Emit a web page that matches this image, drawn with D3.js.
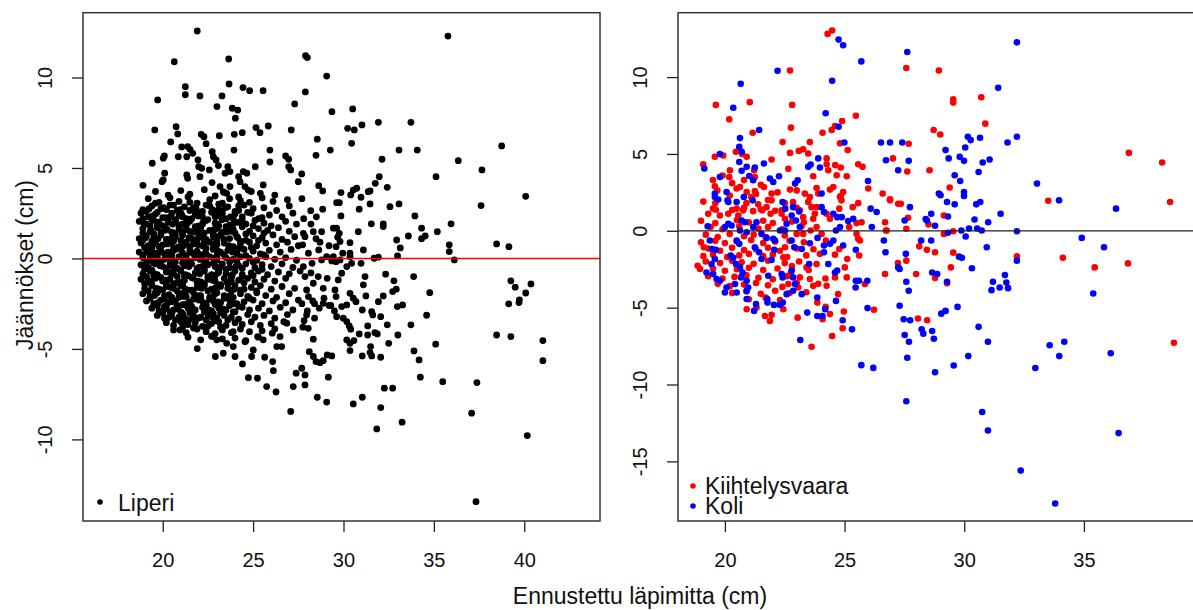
<!DOCTYPE html>
<html>
<head>
<meta charset="utf-8">
<script src="https://cdn.jsdelivr.net/npm/d3@7"></script>
<style>
  html, body { margin: 0; padding: 0; background: #fff; }
  svg { display: block; font-family: "Liberation Sans", Arial, sans-serif; }
</style>
</head>
<body>
<svg id="chart" width="1193" height="610"></svg>
<script>
// Residuals (cm) against predicted diameter (cm), three sites.

// Liperi: [predicted diameter, residual]
const liperi = [
  // upper spread
  [21.91,12.57],[20.64,10.87],[23.65,11.02],[23.67,9.64],[21.25,9.49],[21.25,9.05],[22.06,8.98],[23.28,8.98],
  [24.44,9.44],[24.81,9.27],[25.55,9.27],[19.72,8.76],[23.0,8.39],[23.85,8.30],[24.15,8.20],[24.02,7.75],
  [27.3,8.54],[19.56,7.10],[20.74,7.28],[20.83,6.88],[25.16,7.23],[25.38,6.95],[25.84,7.32],[27.11,7.10],
  [22.13,6.86],[22.28,6.73],[23.13,6.78],[23.96,6.86],[24.40,6.95],[20.44,6.44],[22.40,6.34],[21.05,6.16],
  [21.38,6.18],[21.51,6.03],[21.66,5.81],[21.33,5.62],[23.94,5.99],[25.93,5.99],[25.93,5.33],[20.09,5.66],
  [20.03,5.54],[22.74,5.90],[22.80,5.62],[22.95,5.44],[19.42,5.26],[20.86,5.62],[21.95,5.44],[21.99,5.07],
  [22.16,4.98],[23.08,5.13],[23.60,5.07],[23.72,4.80],[23.45,4.71],[25.12,5.07],[22.58,4.89],[26.80,5.66],
  [26.97,5.48],[26.97,5.07],[27.08,4.89],[24.20,4.52],[24.46,4.80],[24.65,4.71],[20.11,4.71],[20.03,4.34],
  [19.96,4.24],[18.91,4.04],[21.33,4.61],[21.38,4.43],[22.06,4.52],[22.73,4.19],[23.17,3.97],[23.35,3.69],
  [23.54,3.60],[23.72,3.97],[24.28,4.24],[24.55,3.97],[24.73,3.78],[25.56,4.06],[27.50,4.24],
  // lower spread
  [20.96,-3.95],[21.91,-4.98],[22.91,-5.42],[24.0,-5.42],[24.41,-5.83],[24.74,-6.59],[25.24,-6.62],[25.75,-7.08],
  [26.27,-7.38],[27.08,-8.46],[27.22,-7.08],[27.38,-6.34],[26.12,-6.2],[26.08,-5.70],[25.64,-5.46],[25.25,-4.32],
  [26.06,-4.13],[26.31,-4.87],[26.58,-4.87],[24.92,-5.42],[22.99,-4.50],[23.54,-4.69],[22.80,-4.32],
  [23.90,-4.04],[24.55,-4.60],[25.01,-5.06],[23.90,-4.87],[23.35,-5.24],[25.56,-4.50],[26.49,-4.32],[26.86,-3.58],[27.22,-3.95],
  // larger trees, below zero
  [27.96,-3.12],[27.82,-3.44],[28.05,-3.86],[28.33,-4.46],[28.11,-5.15],[28.33,-5.42],[28.48,-5.70],[28.70,-5.76],
  [28.88,-5.65],[29.10,-5.33],[29.35,-5.39],[27.69,-6.07],[27.87,-6.44],[27.87,-6.99],[28.55,-7.67],[29.07,-7.94],
  [29.16,-6.56],[28.66,-2.75],[28.88,-2.48],[29.62,-3.22],[29.99,-3.30],[30.18,-3.49],[30.32,-3.73],[30.40,-3.91],
  [29.90,-2.66],[30.18,-2.57],[30.18,-4.50],[30.36,-4.69],[30.58,-4.54],[30.36,-5.09],[30.87,-4.17],[31.04,-2.85],
  [30.69,-2.39],[31.04,-5.39],[31.34,-3.73],[31.34,-4.23],[31.50,-4.87],[31.47,-5.20],[31.56,-5.39],[31.56,-2.94],
  [31.62,-3.12],[31.74,-4.10],[31.87,-4.17],[32.06,-3.22],[31.93,-2.39],[32.42,-3.67],[32.50,-4.69],[32.06,-5.46],
  [31.04,-7.67],[30.54,-8.04],[32.06,-8.24],[31.84,-9.42],[32.26,-7.17],[32.72,-7.17],[33.24,-9.05],[33.01,-4.23],
  [32.98,-2.66],[33.27,-2.57],[33.73,-3.67],[33.90,-5.11],[34.18,-5.61],[34.25,-6.56],[34.60,-3.14],[35.10,-4.74],
  [35.49,-6.81],[37.09,-8.55],[37.38,-6.86],[37.33,-13.44],[38.47,-4.23],[39.26,-4.32],[39.14,-2.51],[39.71,-2.44],
  [41.03,-4.54],[41.03,-5.65],[40.17,-9.79],
  [27.7,-2.5],[28.0,-2.9],[28.3,-2.35],[27.75,-3.8],[28.4,-3.3],[29.3,-2.6],[29.5,-2.9],
  // larger trees, above zero
  [35.78,12.29],[27.9,11.2],[28.0,11.1],[29.07,10.08],[27.89,9.20],[29.36,8.11],[30.51,8.26],[30.23,7.19],
  [30.60,7.10],[31.02,7.38],[31.93,7.52],[33.73,7.52],[28.55,6.59],[28.48,5.70],[29.27,5.99],[30.45,6.36],
  [33.07,5.99],[34.08,5.99],[38.75,6.22],[36.35,5.40],[32.13,5.48],[37.66,4.89],[35.12,4.52],[27.69,4.67],
  [31.98,4.52],[31.76,4.15],[31.47,3.73],[31.37,3.69],[32.42,3.93],[28.63,4.02],[28.85,3.73],[29.86,3.64],
  [30.54,3.78],[30.73,3.88],[30.40,3.51],[30.97,3.38],[29.62,3.08],[29.77,3.08],[40.08,3.43],[37.61,2.92],
  [31.47,3.01],[32.57,2.86],[33.07,3.01],[28.19,2.64],[28.85,2.72],[30.87,2.72],[29.86,2.35],[33.95,2.35],
  [31.54,1.91],[32.20,1.91],[32.20,1.76],[35.95,1.91],[34.32,1.67],[35.19,1.48],[30.82,1.48],[33.59,1.24],
  [34.32,1.09],[34.52,1.24],[32.94,1.02],[33.14,0.58],[32.99,0.14],[35.85,0.75],[35.85,0.38],[36.13,-0.08],
  [38.47,0.80],[39.15,0.65],[39.26,-1.24],[39.50,-1.59],[40.37,-1.41],[40.08,-1.91],[39.73,-2.29],[33.88,-1.0],
  [34.77,-1.89],[32.33,-0.87],[32.79,-1.24],[32.92,-1.70],[32.72,-1.83],[31.19,-1.0],[31.10,-1.46],[32.20,-2.07],
  [31.24,-2.07],
  [29.44,1.67],[29.62,1.67],[29.77,1.39],[29.68,1.17],[29.81,0.93],[29.59,0.65],[29.96,0.29],
  [28.33,1.48],[28.48,1.09],[28.79,1.48],[27.78,1.39],[27.87,1.20],[27.74,0.75],[28.06,0.29],[28.26,-0.27],
  [27.78,-0.45],[27.87,-1.0],[28.33,-1.37],[27.96,-1.74],[28.06,-2.11],
  [28.63,0.47],[28.79,-0.08],[29.07,0.10],[29.35,-0.14],[29.44,0.10],[29.59,-0.18],
  [29.81,-0.08],[30.36,0.10],[30.45,-0.27],[30.18,-0.45],[29.90,-0.82],[29.71,-1.19],[29.53,-1.74],[29.59,-2.11],
  [28.88,-1.65],[28.92,-2.20],[30.36,-1.93],[30.54,-2.20],[30.97,-0.27],[31.69,0.01],[31.93,0.07],[30.36,0.87],
  [30.36,0.29],[31.10,0.47],
  [27.7,3.3],[27.8,2.2],[28.2,1.9],[28.5,2.3],[28.7,0.9],[28.2,-0.8],[28.6,-1.0],[29.1,-1.1],[29.2,0.7],[28.4,-2.5],[29.2,-2.6],
  // main cloud of small trees
  [19.6,3.7],[20.3,3.5],[21.0,3.75],[21.5,3.55],[22.3,3.8],[22.9,3.45],[23.4,3.65],[24.2,3.4],[24.9,3.7],[25.4,3.6],[26.2,3.5],
  [19.2,3.3],[19.8,3.1],[20.4,3.35],[20.9,3.15],[21.4,3.4],[21.9,3.05],[22.6,3.25],[23.1,3.0],[23.7,3.3],[24.3,3.2],[24.8,3.1],[25.5,3.35],[26.1,3.15],[26.9,3.25],
  [18.9,2.7],[19.4,2.9],[19.9,2.75],[20.4,2.95],[20.8,2.65],[21.2,2.85],[21.7,2.8],[22.2,2.6],[22.6,2.9],[23.1,2.7],[23.6,2.85],[24.0,2.6],[24.5,2.95],[25.0,2.75],[25.6,2.8],[26.3,2.65],[27.0,2.9],
  [18.8,2.5],[19.2,2.3],[19.6,2.45],[20.0,2.25],[20.5,2.5],[20.9,2.35],[21.3,2.2],[21.8,2.45],[22.2,2.3],[22.7,2.55],[23.1,2.35],[23.5,2.2],[24.0,2.45],[24.4,2.3],[24.9,2.5],[25.3,2.2],[25.9,2.4],[26.6,2.3],[27.2,2.5],
  [18.7,2.05],[19.1,1.9],[19.5,2.1],[19.9,1.85],[20.3,2.0],[20.7,2.15],[21.1,1.9],[21.5,2.05],[22.0,1.8],[22.4,2.1],[22.9,1.95],[23.3,2.15],[23.7,1.85],[24.2,2.0],[24.6,1.9],[25.1,2.1],[25.6,1.95],[26.0,1.8],[26.8,2.05],[27.4,1.9],
  [18.9,1.65],[19.3,1.5],[19.7,1.7],[20.1,1.55],[20.5,1.45],[20.9,1.7],[21.3,1.6],[21.7,1.45],[22.1,1.7],[22.6,1.55],[23.0,1.65],[23.5,1.45],[23.9,1.6],[24.4,1.75],[24.8,1.5],[25.3,1.65],[25.8,1.55],[26.4,1.7],[27.0,1.5],
  [18.7,1.1],[19.1,1.25],[19.5,1.15],[19.9,1.3],[20.3,1.05],[20.7,1.2],[21.1,1.3],[21.6,1.1],[22.0,1.25],[22.4,1.05],[22.8,1.2],[23.2,1.3],[23.7,1.1],[24.1,1.2],[24.6,1.0],[25.0,1.25],[25.5,1.15],[26.1,1.3],[26.6,1.05],[27.3,1.2],
  [18.8,0.85],[19.2,0.7],[19.6,0.9],[20.0,0.75],[20.4,0.85],[20.9,0.65],[21.3,0.9],[21.7,0.8],[22.2,0.7],[22.6,0.9],[23.0,0.75],[23.4,0.85],[23.9,0.65],[24.3,0.8],[24.8,0.9],[25.2,0.7],[25.7,0.85],[26.3,0.75],[26.9,0.9],[27.5,0.7],
  [18.7,0.35],[19.1,0.5],[19.5,0.3],[19.9,0.45],[20.3,0.35],[20.7,0.5],[21.1,0.3],[21.5,0.45],[21.9,0.4],[22.4,0.25],[22.8,0.5],[23.2,0.35],[23.6,0.45],[24.1,0.3],[24.5,0.5],[25.0,0.4],[25.4,0.25],[25.9,0.45],[26.5,0.35],[27.1,0.5],
  [18.9,0.05],[19.3,-0.1],[19.7,0.1],[20.1,-0.05],[20.5,0.0],[20.9,0.1],[21.3,-0.1],[21.8,0.05],[22.2,-0.05],[22.6,0.1],[23.0,-0.1],[23.5,0.05],[23.9,-0.05],[24.3,0.1],[24.8,0.0],[25.2,-0.1],[25.7,0.1],[26.2,-0.05],[26.8,0.05],[27.4,-0.1],
  [18.8,-0.35],[19.2,-0.5],[19.6,-0.3],[20.0,-0.45],[20.4,-0.35],[20.8,-0.55],[21.2,-0.4],[21.6,-0.3],[22.0,-0.5],[22.5,-0.35],[22.9,-0.45],[23.3,-0.3],[23.7,-0.5],[24.2,-0.4],[24.6,-0.3],[25.1,-0.5],[25.5,-0.35],[26.0,-0.45],[26.6,-0.3],[27.2,-0.5],
  [18.9,-0.85],[19.3,-0.7],[19.7,-0.9],[20.2,-0.75],[20.6,-0.85],[21.0,-0.7],[21.4,-0.95],[21.8,-0.8],[22.3,-0.7],[22.7,-0.9],[23.1,-0.75],[23.5,-0.85],[24.0,-0.7],[24.4,-0.9],[24.9,-0.8],[25.3,-0.7],[25.8,-0.9],[26.4,-0.75],[27.0,-0.85],[27.6,-0.7],
  [18.8,-1.15],[19.2,-1.3],[19.6,-1.1],[20.0,-1.25],[20.4,-1.15],[20.8,-1.35],[21.2,-1.2],[21.7,-1.1],[22.1,-1.3],[22.5,-1.15],[22.9,-1.25],[23.4,-1.1],[23.8,-1.3],[24.2,-1.2],[24.7,-1.1],[25.1,-1.3],[25.6,-1.15],[26.2,-1.25],[26.8,-1.1],
  [19.0,-1.65],[19.4,-1.5],[19.8,-1.7],[20.2,-1.55],[20.6,-1.65],[21.0,-1.5],[21.4,-1.75],[21.9,-1.6],[22.3,-1.5],[22.7,-1.7],[23.2,-1.55],[23.6,-1.65],[24.0,-1.5],[24.5,-1.7],[24.9,-1.6],[25.4,-1.5],[26.0,-1.7],[26.6,-1.55],[27.3,-1.65],
  [18.9,-1.95],[19.3,-2.1],[19.7,-1.9],[20.1,-2.05],[20.5,-2.15],[20.9,-1.95],[21.3,-2.1],[21.7,-1.9],[22.1,-2.05],[22.6,-2.15],[23.0,-1.9],[23.4,-2.05],[23.8,-2.15],[24.3,-1.95],[24.7,-2.1],[25.2,-1.9],[25.7,-2.05],[26.3,-2.15],[27.0,-1.95],
  [19.1,-2.35],[19.5,-2.5],[19.9,-2.3],[20.3,-2.45],[20.7,-2.35],[21.1,-2.55],[21.5,-2.4],[22.0,-2.3],[22.4,-2.5],[22.8,-2.35],[23.2,-2.45],[23.7,-2.3],[24.1,-2.5],[24.5,-2.4],[25.0,-2.3],[25.5,-2.5],[26.1,-2.35],[26.8,-2.45],[27.5,-2.3],
  [19.4,-2.75],[19.8,-2.9],[20.2,-2.7],[20.6,-2.85],[21.0,-2.95],[21.4,-2.75],[21.8,-2.85],[22.2,-2.7],[22.7,-2.9],[23.1,-2.75],[23.5,-2.85],[23.9,-2.95],[24.4,-2.7],[24.8,-2.85],[25.3,-2.75],[25.9,-2.9],[26.5,-2.7],[27.2,-2.85],
  [19.7,-3.15],[20.1,-3.3],[20.5,-3.1],[20.9,-3.25],[21.3,-3.35],[21.7,-3.15],[22.1,-3.25],[22.5,-3.1],[23.0,-3.3],[23.4,-3.15],[23.8,-3.25],[24.2,-3.35],[24.7,-3.1],[25.1,-3.25],[25.6,-3.15],[26.2,-3.3],[26.9,-3.1],
  [20.2,-3.55],[20.6,-3.7],[21.0,-3.5],[21.4,-3.65],[21.8,-3.55],[22.2,-3.75],[22.7,-3.6],[23.1,-3.5],[23.5,-3.7],[24.0,-3.55],[24.4,-3.65],[24.9,-3.5],[25.4,-3.7],[26.0,-3.6],[26.7,-3.5],
  [20.6,-3.95],[21.3,-4.1],[21.9,-3.9],[22.4,-4.05],[22.9,-4.15],[23.3,-3.95],[23.8,-4.1],[24.3,-3.9],[24.8,-4.05],[25.5,-4.0],[26.2,-3.9],
  [21.4,-4.35],[22.1,-4.5],[22.7,-4.3],[23.3,-4.45],[24.0,-4.4],[24.6,-4.55],[25.3,-4.35],
  // densest part of the cloud
  [19.6,3.05],[20.6,2.95],[21.5,3.1],[22.4,2.95],[23.3,3.05],[24.2,2.9],
  [19.1,2.6],[19.7,2.55],[20.2,2.7],[21.0,2.5],[21.5,2.65],[22.0,2.55],[22.9,2.6],[23.3,2.5],[24.2,2.65],[24.7,2.55],
  [18.9,2.2],[19.4,2.15],[20.2,2.25],[20.7,2.1],[21.1,2.3],[21.6,2.2],[22.5,2.15],[22.9,2.3],[23.9,2.2],[24.4,2.1],[25.5,2.25],
  [19.3,1.8],[19.7,1.85],[20.1,1.75],[20.9,1.85],[21.3,1.8],[21.8,1.75],[22.2,1.9],[23.1,1.8],[23.5,1.75],[24.4,1.85],[25.0,1.8],
  [18.9,1.4],[19.5,1.35],[19.9,1.45],[20.7,1.4],[21.1,1.35],[21.5,1.5],[22.3,1.4],[22.8,1.35],[23.3,1.45],[24.0,1.4],[24.6,1.35],[25.6,1.4],
  [18.9,1.0],[19.4,0.95],[20.2,1.05],[20.6,0.95],[21.0,1.0],[21.9,1.05],[22.3,0.9],[23.0,1.0],[23.4,1.05],[24.3,0.95],[25.3,1.0],
  [19.0,0.6],[19.4,0.55],[19.8,0.65],[20.6,0.6],[21.0,0.5],[21.5,0.65],[22.4,0.55],[22.8,0.6],[23.7,0.65],[24.2,0.55],[24.9,0.6],
  [18.9,0.2],[19.3,0.15],[20.1,0.25],[20.5,0.2],[21.3,0.15],[21.7,0.25],[22.1,0.2],[23.0,0.15],[23.4,0.2],[24.1,0.25],[24.6,0.15],[25.6,0.2],
  [19.1,-0.2],[19.5,-0.25],[19.9,-0.15],[20.7,-0.2],[21.1,-0.25],[21.5,-0.15],[22.4,-0.2],[22.8,-0.25],[23.7,-0.2],[24.1,-0.15],[25.0,-0.2],
  [19.0,-0.6],[19.4,-0.65],[20.2,-0.55],[20.6,-0.6],[21.0,-0.65],[21.9,-0.55],[22.3,-0.6],[23.1,-0.65],[23.5,-0.6],[24.4,-0.55],[25.5,-0.6],
  [19.1,-1.0],[19.5,-0.95],[19.9,-1.05],[20.8,-1.0],[21.2,-0.95],[21.6,-1.05],[22.5,-1.0],[22.9,-0.95],[23.8,-1.05],[24.4,-1.0],[25.0,-0.95],
  [19.0,-1.4],[19.4,-1.45],[20.2,-1.35],[20.6,-1.4],[21.1,-1.45],[21.9,-1.35],[22.3,-1.4],[23.2,-1.45],[23.6,-1.4],[24.5,-1.35],
  [19.2,-1.8],[19.6,-1.85],[20.0,-1.75],[20.8,-1.8],[21.2,-1.85],[21.6,-1.75],[22.5,-1.8],[22.9,-1.85],[23.8,-1.8],[24.3,-1.75],[25.2,-1.8],
  [19.3,-2.2],[20.1,-2.25],[20.5,-2.2],[20.9,-2.15],[21.7,-2.25],[22.1,-2.2],[22.6,-2.25],[23.4,-2.2],[23.9,-2.15],[24.8,-2.2],
  [19.7,-2.6],[20.1,-2.65],[20.8,-2.6],[21.2,-2.55],[21.6,-2.65],[22.4,-2.6],[22.9,-2.55],[23.7,-2.6],[24.2,-2.65],
  [20.0,-3.0],[20.4,-2.95],[21.1,-3.05],[21.5,-3.0],[22.3,-2.95],[22.8,-3.05],[23.2,-3.0],[24.0,-2.95],
  [20.7,-3.4],[21.2,-3.45],[21.6,-3.35],[22.4,-3.4],[22.9,-3.45],[23.6,-3.4],
  [21.1,-3.8],[21.7,-3.85],[22.5,-3.75],[23.2,-3.8],
  [19.25,2.75],[20.05,2.8],[20.95,2.7],[21.85,2.75],[22.75,2.7],[23.45,2.8],
  [19.45,2.35],[20.45,2.3],[21.05,2.4],[21.95,2.35],[22.95,2.4],[23.75,2.3],
  [18.95,1.95],[19.75,2.0],[20.55,1.9],[21.35,1.95],[22.25,2.0],[23.05,1.9],[23.95,1.95],
  [19.35,1.55],[20.25,1.6],[21.05,1.5],[21.95,1.55],[22.85,1.6],[23.75,1.5],
  [19.05,1.15],[19.75,1.1],[20.55,1.2],[21.45,1.15],[22.25,1.1],[23.05,1.2],[24.15,1.15],
  [19.45,0.75],[20.25,0.8],[21.15,0.7],[21.95,0.75],[22.85,0.8],[23.65,0.7],
  [19.15,0.35],[19.75,0.3],[20.55,0.4],[21.55,0.35],[22.35,0.3],[23.05,0.4],[23.85,0.35],
  [19.55,-0.05],[20.35,0.0],[21.15,-0.1],[22.05,-0.05],[22.85,0.0],[23.75,-0.1],
  [19.05,-0.45],[19.85,-0.4],[20.65,-0.5],[21.45,-0.45],[22.25,-0.4],[23.15,-0.5],[24.05,-0.45],
  [19.55,-0.85],[20.45,-0.8],[21.25,-0.9],[22.05,-0.85],[23.05,-0.8],[23.85,-0.9],
  [19.35,-1.25],[20.15,-1.2],[21.05,-1.3],[21.95,-1.25],[22.75,-1.2],[23.55,-1.3],
  [19.65,-1.65],[20.45,-1.6],[21.25,-1.7],[22.15,-1.65],[22.95,-1.6],[23.95,-1.7],
  [19.55,-2.05],[20.35,-2.0],[21.15,-2.1],[21.95,-2.05],[22.85,-2.0],[23.65,-2.1],
  [19.75,-2.45],[20.55,-2.4],[21.35,-2.5],[22.25,-2.45],[23.05,-2.4],[23.95,-2.5],
  [20.05,-2.85],[20.85,-2.8],[21.65,-2.9],[22.55,-2.85],[23.35,-2.8],
  [20.35,-3.25],[21.15,-3.2],[21.95,-3.3],[22.75,-3.25]
];

// Kiihtelysvaara: [predicted diameter, residual]
const kiihtelysvaara = [
  [24.29,12.81],[24.48,13.03],[22.72,10.43],[19.62,8.19],[21.04,8.37],[22.81,8.19],[20.18,7.25],[24.90,7.14],
  [25.47,7.49],[22.76,6.71],[21.16,6.38],[24.08,6.38],[24.46,6.56],[24.60,6.82],[22.41,5.77],[23.55,5.77],
  [24.81,5.69],[19.09,4.33],[19.58,4.81],[19.93,4.90],[20.46,5.14],[20.72,4.99],[20.91,4.81],[21.95,4.64],
  [22.72,5.07],[23.09,5.20],[23.27,5.31],[23.48,5.03],[24.25,4.71],[24.25,4.33],[24.61,4.27],[24.84,4.12],
  [25.13,5.25],[25.57,4.33],[25.75,4.16],[20.21,3.94],[20.18,3.50],[21.22,3.94],[21.25,3.50],[22.65,4.03],
  [23.69,3.55],[24.32,3.94],[24.67,3.61],[25.09,3.55],[19.58,2.90],[19.68,2.63],[20.49,2.75],[20.63,2.85],
  [20.91,2.52],[21.25,2.59],[21.63,2.85],[21.95,2.42],[22.72,2.68],[23.0,2.63],[23.34,2.42],[23.55,2.20],
  [23.83,2.78],[24.39,2.68],[24.94,2.52],[24.87,1.98],[24.84,2.26],[25.57,1.80],[26.59,2.42],[26.90,2.05],
  [27.24,1.76],[19.30,1.11],[19.62,1.37],[19.79,1.0],[20.14,1.11],[20.49,1.44],[20.56,1.0],[20.76,1.33],
  [21.18,1.28],[21.39,1.72],[21.56,1.33],[21.74,1.54],[21.95,1.98],[21.91,1.11],[22.37,1.11],[22.51,0.78],
  [23.13,1.33],[23.48,1.87],[23.62,1.54],[23.76,1.11],[23.69,0.78],[23.30,0.56],[24.25,1.11],[24.39,0.78],
  [24.78,1.44],[25.19,0.24],[25.50,0.50],[25.71,0.56],[26.69,0.56],[26.76,0.02],[25.57,-0.52],[18.86,-2.27],
  [18.96,-2.48],[19.12,-1.07],
  [19.5,3.3],[19.9,3.6],[20.3,3.1],[20.8,3.3],[21.1,2.2],[21.5,3.0],[21.8,2.0],[22.2,2.5],[22.5,1.8],
  [19.1,1.9],[19.6,1.8],[20.2,2.3],[20.9,1.8],[21.3,2.4],
  [22.37,1.33],[22.85,1.87],[23.27,0.89],[23.83,1.54],[23.90,2.42],[24.53,2.85],[24.81,2.20],[25.34,1.54],
  [25.50,-0.20],[25.64,-0.63],[25.61,-1.61],[25.11,-1.83],[25.01,-2.38],[24.60,-3.03],[24.25,-3.58],[24.73,-4.12],
  [25.09,-3.03],[24.78,-1.18],[24.22,-0.63],[23.97,-1.50],[23.83,-2.16],[23.41,-2.38],[23.13,-3.03],[23.55,-3.14],
  [23.69,-3.58],[23.06,-3.69],[22.65,-3.46],[22.76,-2.71],[22.44,-1.72],[22.51,-1.07],[23.27,-0.20],[23.58,0.02],
  [23.83,0.24],[24.04,-0.20],[25.85,-3.46],[26.69,-2.81],[26.73,0.02],[26.90,1.98],[25.99,2.75],
  [19.5,1.45],[20.3,1.35],[20.8,1.5],[21.5,1.4],[22.1,1.3],[23.0,1.5],
  [19.0,0.65],[19.6,0.5],[20.5,0.7],[21.0,0.55],[21.6,0.65],[22.0,0.5],[22.8,0.6],
  [19.4,0.25],[19.9,0.1],[20.6,0.3],[21.4,0.15],[21.8,0.25],[22.4,0.1],[23.2,0.3],
  [19.2,-0.25],[19.7,-0.4],[20.2,-0.2],[20.8,-0.35],[21.2,-0.25],[21.7,-0.4],[22.5,-0.3],[23.0,-0.2],
  [19.0,-0.75],[19.6,-0.65],[20.0,-0.8],[20.5,-0.7],[21.1,-0.6],[21.6,-0.8],[22.1,-0.7],[22.7,-0.65],[23.3,-0.75],
  [19.3,-1.15],[19.8,-1.3],[20.3,-1.1],[20.8,-1.25],[21.3,-1.2],[21.8,-1.1],[22.3,-1.3],[23.0,-1.15],[23.7,-1.2],
  [19.1,-1.65],[19.5,-1.55],[20.1,-1.7],[20.6,-1.6],[21.0,-1.5],[21.6,-1.65],[22.0,-1.55],[22.6,-1.7],[23.4,-1.6],[24.6,-1.55],
  [19.2,-2.0],[19.8,-2.1],[20.3,-1.95],[20.7,-2.05],[21.2,-2.15],[21.8,-1.95],[22.5,-2.1],[23.1,-2.0],
  [19.5,-2.45],[20.0,-2.6],[20.5,-2.5],[21.0,-2.4],[21.6,-2.55],[22.2,-2.45],[22.8,-2.3],[23.5,-2.55],
  [19.3,-2.95],[19.9,-3.1],[20.4,-3.0],[20.9,-2.9],[21.4,-3.05],[22.0,-3.15],[22.6,-2.95],[24.2,-3.1],
  [19.7,-3.45],[20.2,-3.6],[20.8,-3.5],[21.3,-3.4],[21.8,-3.55],[22.4,-3.65],[23.0,-3.4],[23.9,-3.45],
  [20.3,-4.05],[20.9,-3.95],[21.5,-4.1],[22.1,-3.9],[22.7,-4.05],[23.4,-4.0],
  [21.0,-4.45],[21.7,-4.35],[22.3,-4.5],
  [20.91,-5.10],[21.32,-4.99],[21.67,-5.54],[21.88,-5.86],[21.95,-5.47],[22.44,-5.10],[23.04,-5.65],[23.62,-7.54],
  [24.48,-6.84],[24.92,-6.34],[24.97,-5.25],[23.86,-4.67],[24.21,-4.95],[24.08,-5.75],[24.39,-5.42],[26.23,-5.14],
  [27.58,10.59],[28.94,10.43],[29.54,8.56],[29.54,8.34],[30.71,8.69],[30.88,6.97],[28.72,6.56],[29.0,6.27],
  [27.68,5.66],[27.02,4.71],[27.62,3.86],[28.55,3.94],[29.39,2.81],[36.88,5.07],[38.27,4.44],[33.51,1.96],
  [38.60,1.87],[27.35,1.76],[27.65,0.85],[27.58,0.13],[28.51,0.41],[29.15,1.0],[29.15,-0.20],[29.54,-0.03],
  [28.12,-1.01],[28.44,-1.24],[28.78,-1.40],[29.54,-1.42],[27.23,-2.09],[27.58,-1.94],[29.44,-2.38],[27.99,-2.81],
  [28.78,-3.07],[29.28,-3.42],[32.20,-1.66],[34.12,-1.76],[35.45,-2.38],[36.84,-2.12],
  [28.07,-5.71],[28.45,-5.82],[38.76,-7.28]
];

// Koli: [predicted diameter, residual]
const koli = [
  [22.20,10.41],[20.66,9.56],[20.35,8.01],[21.43,6.56],[20.63,6.03],[24.48,9.76],[24.75,12.44],[24.94,12.07],
  [25.70,11.02],[24.21,7.65],[24.75,6.77],[24.99,5.75],[26.52,5.75],[26.90,5.75],[26.73,4.59],[27.24,3.94],
  [25.98,3.24],[26.09,1.44],[26.34,1.22],[26.14,0.24],[26.64,-0.63],[26.71,-1.40],[27.24,-2.38],[19.14,4.05],
  [19.79,4.99],[19.79,3.50],[20.60,5.46],[20.70,5.14],[20.60,4.48],[20.70,3.90],[20.91,4.16],[21.02,3.57],
  [21.18,3.29],[21.25,4.12],[21.63,4.38],[21.88,3.40],[22.02,3.18],[22.26,3.55],[19.58,2.42],[19.58,2.20],
  [19.72,2.03],[20.11,1.98],[20.07,2.52],[20.14,1.87],[20.49,1.87],[20.79,2.20],[21.16,1.98],[22.41,1.87],
  [22.52,1.44],[22.85,1.54],[22.79,1.0],[23.10,1.26],[23.48,4.16],[23.58,4.31],[23.90,4.71],[23.97,4.12],
  [22.93,3.07],[23.04,3.29],[24.04,2.42],[24.04,1.54],[24.14,1.22],[24.53,1.11],[24.69,0.89],[24.88,0.89],
  [25.36,0.78],[25.15,0.63],[24.64,0.02],[24.81,0.24],[24.53,-0.63],[24.39,-0.85],[23.87,-0.46],[24.14,-0.96],
  [24.14,-1.40],[24.32,-2.16],[24.60,-2.71],[24.69,-2.59],[24.94,-0.96],[25.47,-1.24],[25.47,-3.25],[25.60,-3.25],
  [25.95,-3.25],[25.46,-3.69],[19.28,0.30],[19.37,-0.63],[19.46,-1.18],[19.62,-1.24],[19.58,-1.83],[19.44,-2.16],
  [19.23,-2.71],[19.51,-2.81],[19.65,-3.14],[19.79,-3.25],[20.0,-4.01],[20.07,-3.69],[20.42,-3.46],[20.49,-4.01],
  [20.0,0.24],[20.14,0.46],[20.28,0.35],[20.70,0.67],[20.84,0.56],[20.63,0.02],[20.91,-0.09],[20.49,-0.63],
  [20.60,-0.85],[20.24,-1.61],[20.35,-1.76],[20.46,-2.16],[20.63,-2.38],[20.74,-2.71],[20.67,-3.03],[20.91,-3.25],
  [20.97,-3.69],[20.91,-3.90],[21.18,0.24],[21.32,0.56],[21.53,-0.20],[21.74,-0.46],[22.02,-0.52],[22.09,-0.63],
  [21.25,-1.07],[21.43,-1.40],[21.53,-1.83],[21.95,-1.90],[21.81,-2.92],[22.37,-2.81],[22.41,-3.03],[22.79,-2.59],
  [22.85,-3.03],[22.93,-3.46],[22.85,-3.90],[22.58,-4.12],[22.06,-1.24],[22.79,-0.63],[22.90,-1.07],[23.21,-1.18],
  [23.55,-0.81],[23.52,-2.16],[23.86,-4.34],[23.21,-4.12],[21.77,-4.44],[20.91,-4.44],[22.97,0.67],[22.58,0.46],
  [22.30,0.02],[22.51,0.02],[23.13,0.24],
  [21.22,-5.21],[21.30,-4.77],[21.78,-4.67],[22.05,-4.82],[22.30,-4.82],[22.42,-4.67],[23.15,-7.10],[23.44,-5.32],
  [23.86,-5.54],[24.08,-5.54],[24.19,-5.10],[24.64,-4.56],[24.92,-5.82],[25.31,-6.41],[25.70,-8.74],[26.20,-8.92],
  [25.96,-5.03],[27.30,-4.88],
  [27.62,11.63],[32.20,12.26],[31.42,9.30],[30.15,6.12],[30.27,5.90],[30.66,6.05],[31.81,5.75],[32.20,6.12],
  [27.41,5.75],[29.22,5.25],[29.35,4.71],[30.04,5.42],[29.81,4.81],[29.99,4.55],[30.77,4.44],[31.06,4.64],
  [27.68,4.55],[30.60,3.83],[29.60,3.61],[29.83,3.24],[33.04,3.07],[28.94,2.42],[29.01,2.31],[29.99,2.52],
  [29.99,2.26],[29.28,1.87],[29.60,1.72],[30.50,1.72],[30.67,1.87],[27.73,1.54],[33.96,1.98],[36.34,1.44],
  [31.52,1.11],[28.62,1.11],[29.32,0.93],[28.39,0.76],[28.44,0.67],[27.51,0.67],[28.78,0.33],[31.0,0.56],
  [30.43,0.74],[30.20,0.15],[30.54,0.15],[30.73,0.02],[29.88,0.02],[30.06,-0.37],[29.32,-0.13],[32.20,-0.03],
  [28.20,-0.63],[28.62,-0.63],[30.94,-1.07],[34.91,-0.46],[35.84,-1.07],[29.78,-1.68],[29.90,-1.76],[32.20,-1.94],
  [27.56,-1.50],[27.30,-2.48],[30.32,-2.44],[28.66,-2.71],[28.87,-2.81],[29.28,-3.31],[27.58,-3.31],[27.68,-3.90],
  [31.20,-3.31],[31.14,-3.86],[31.48,-3.69],[31.70,-2.88],[31.76,-3.36],[31.83,-3.73],[35.39,-4.08],
  [27.47,-5.75],[27.74,-5.82],[27.51,-6.78],[27.69,-7.22],[27.62,-8.26],[27.58,-11.09],[28.22,-6.41],[28.29,-6.69],
  [28.66,-6.52],[28.73,-7.02],[28.78,-9.20],[29.04,-5.39],[29.22,-5.21],[29.72,-4.95],[29.56,-8.76],[30.17,-8.15],
  [30.60,-6.25],[30.75,-11.79],[30.99,-7.22],[30.99,-12.99],[32.36,-15.60],[32.97,-8.93],[33.57,-7.45],[33.97,-8.15],
  [34.18,-7.22],[33.80,-17.74],[36.12,-7.97],[36.45,-13.16]
];

const leftXTicks = [20, 25, 30, 35, 40];
const leftYTicks = [-10, -5, 0, 5, 10];
const rightXTicks = [20, 25, 30, 35];
const rightYTicks = [-15, -10, -5, 0, 5, 10];

const xTitle = "Ennustettu läpimitta (cm)";
const yTitle = "Jäännökset (cm)";
const leftLegend = ["Liperi"];
const rightLegend = ["Kiihtelysvaara", "Koli"];

const svg = d3.select("#chart");
const plotTop = 12.7, plotBottom = 521;
const dotR = 3.4;

// panel scales
const xL = d3.scaleLinear().domain([15.59, 44.19]).range([83, 600]);
const yL = d3.scaleLinear().domain([-14.51, 13.58]).range([plotBottom, plotTop]);
const xR = d3.scaleLinear().domain([18.04, 39.6]).range([678, 1194]);
const yR = d3.scaleLinear().domain([-18.88, 14.19]).range([plotBottom, plotTop]);

function panelAxes(x, y, xticks, yticks) {
  const g = svg.append("g");
  // bottom axis
  const ax = g.append("g").attr("transform", `translate(0,${plotBottom})`)
    .call(d3.axisBottom(x).tickValues(xticks).tickSize(11).tickFormat(d3.format("d")));
  ax.select(".domain").remove();
  ax.selectAll(".tick line").attr("stroke", "#222").attr("stroke-width", 1.3);
  ax.selectAll(".tick text").attr("y", 46).attr("dy", 0)
    .attr("font-size", 20).attr("fill", "#111").attr("font-family", "Liberation Sans, Arial, sans-serif");
  // left axis, labels turned to read upward
  const x0 = x.range()[0];
  const ay = g.append("g").attr("transform", `translate(${x0},0)`)
    .call(d3.axisLeft(y).tickValues(yticks).tickSize(11).tickFormat(d3.format("d")));
  ay.select(".domain").remove();
  ay.selectAll(".tick line").attr("stroke", "#222").attr("stroke-width", 1.3);
  ay.selectAll(".tick text").attr("x", 0).attr("dy", 0).attr("text-anchor", "middle")
    .attr("transform", "translate(-31,0) rotate(-90)")
    .attr("font-size", 20).attr("fill", "#111").attr("font-family", "Liberation Sans, Arial, sans-serif")
    .text(d => d < 0 ? "-" + Math.abs(d) : String(d));
  return g;
}

// ---- left panel: Liperi ----
panelAxes(xL, yL, leftXTicks, leftYTicks);
svg.append("g").selectAll("circle").data(liperi).join("circle")
  .attr("cx", d => xL(d[0])).attr("cy", d => yL(d[1])).attr("r", dotR).attr("fill", "#000");
svg.append("line").attr("x1", xL.range()[0]).attr("x2", xL.range()[1])
  .attr("y1", yL(0)).attr("y2", yL(0)).attr("stroke", "#ff0000").attr("stroke-width", 1.4);
svg.append("rect").attr("x", 83).attr("y", plotTop).attr("width", 600 - 83).attr("height", plotBottom - plotTop)
  .attr("fill", "none").attr("stroke", "#333").attr("stroke-width", 1.5);

const legL = svg.append("g");
legL.selectAll("circle").data(leftLegend).join("circle")
  .attr("cx", 100).attr("cy", 502).attr("r", 2.8).attr("fill", "#000");
legL.selectAll("text").data(leftLegend).join("text")
  .attr("x", 118).attr("y", 511).attr("font-size", 23).attr("fill", "#111").text(d => d);

// ---- right panel: Kiihtelysvaara and Koli ----
panelAxes(xR, yR, rightXTicks, rightYTicks);
svg.append("g").selectAll("circle").data(kiihtelysvaara).join("circle")
  .attr("cx", d => xR(d[0])).attr("cy", d => yR(d[1])).attr("r", dotR - 0.1).attr("fill", "#ff0000");
svg.append("g").selectAll("circle").data(koli).join("circle")
  .attr("cx", d => xR(d[0])).attr("cy", d => yR(d[1])).attr("r", dotR - 0.1).attr("fill", "#0000ff");
svg.append("line").attr("x1", xR.range()[0]).attr("x2", xR.range()[1])
  .attr("y1", yR(0)).attr("y2", yR(0)).attr("stroke", "#222").attr("stroke-width", 1.3);
svg.append("rect").attr("x", 678).attr("y", plotTop).attr("width", 1194 - 678).attr("height", plotBottom - plotTop)
  .attr("fill", "none").attr("stroke", "#333").attr("stroke-width", 1.5);

// legend rows sit close together, as two stacked lines of one key
const legColors = ["#ff0000", "#0000ff"];
const legR = svg.append("g");
legR.selectAll("circle").data(rightLegend).join("circle")
  .attr("cx", 693).attr("cy", (d, i) => 486 + i * 20).attr("r", 2.8).attr("fill", (d, i) => legColors[i]);
legR.selectAll("text").data(rightLegend).join("text")
  .attr("x", 705).attr("y", (d, i) => 494 + i * 20).attr("font-size", 23).attr("fill", "#111").text(d => d);

// ---- shared titles ----
svg.append("text").attr("x", 640).attr("y", 604).attr("text-anchor", "middle")
  .attr("font-size", 23).attr("fill", "#111").text(xTitle);
svg.append("text").attr("transform", "translate(33,265) rotate(-90)").attr("text-anchor", "middle")
  .attr("font-size", 23).attr("fill", "#111").text(yTitle);
</script>
</body>
</html>
